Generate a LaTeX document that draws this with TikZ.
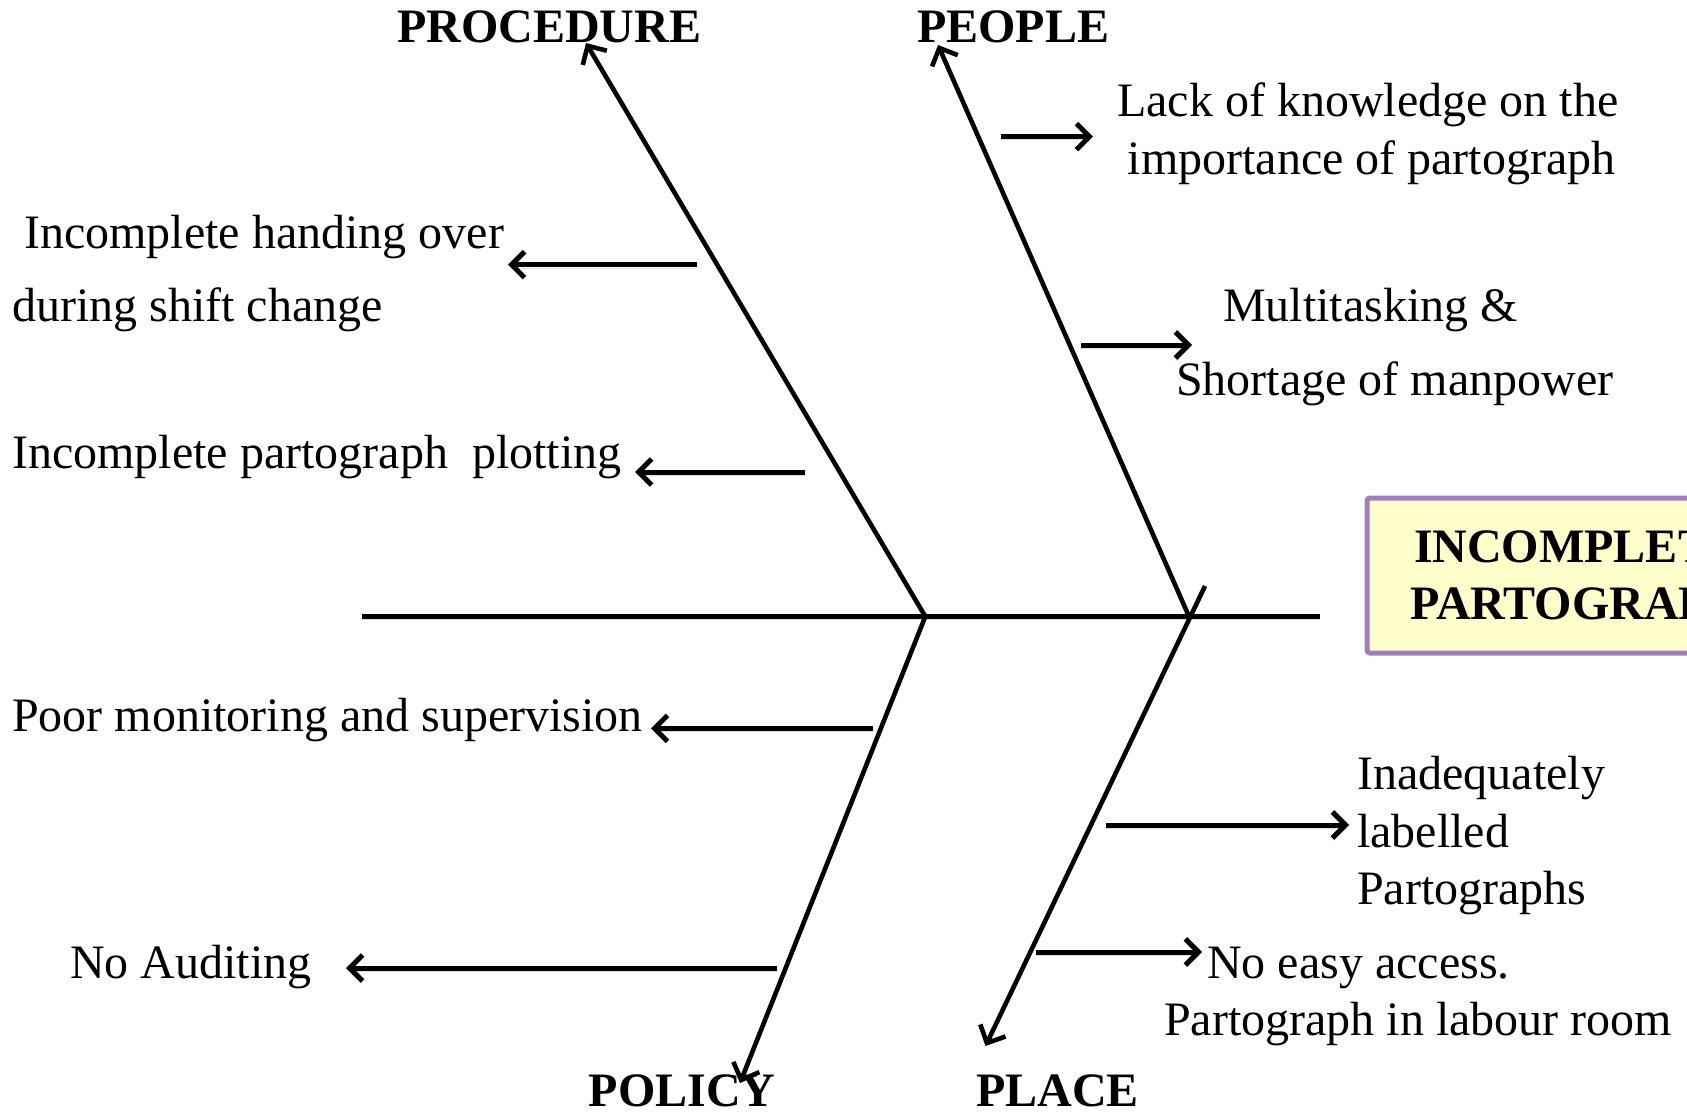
\documentclass[tikz,border=0pt]{standalone}
\usepackage{fontspec}
\setmainfont{Liberation Serif}
\usetikzlibrary{arrows.meta}
\definecolor{boxpurple}{HTML}{A47DBF}
\definecolor{boxyellow}{HTML}{FFFFCC}
\begin{document}
\begin{tikzpicture}[x=1pt,y=-1pt,
  txt/.style={anchor=base west, inner sep=0pt, font=\fontsize{48}{58}\selectfont},
  head/.style={anchor=base west, inner sep=0pt, font=\fontsize{48}{58}\selectfont\bfseries},
  soft/.style={preaction={draw=black!14, transform canvas={yshift=-3pt}}},
  spine/.style={line width=5pt, soft},
  bone/.style={line width=4.6pt, -{Straight Barb[length=14pt,width=28pt]}},
  cause/.style={line width=5pt, soft, -{Straight Barb[length=13pt,width=26pt]}},
  effectbox/.style={draw=boxpurple, fill=boxyellow, line width=5pt, rounded corners=3pt,
    minimum width=422pt, minimum height=155pt, align=center,
    font=\fontsize{48}{57}\selectfont\bfseries}]
\clip (0,0) rectangle (1687,1113);
\fill[white] (0,0) rectangle (1687,1113);

% category headings
\node[head] (procedure) at (397,43) {PROCEDURE};
\node[head] (people) at (917,43) {PEOPLE};
\node[head] (policy) at (588.5,1106) {POLICY};
\node[head] (place) at (976,1106) {PLACE};

% effect
\node[effectbox] (effect) at (1578,575.5) {INCOMPLETE\\PARTOGRAPH};

% skeleton points
\coordinate (spL) at (361.5,616.5);
\coordinate (spR) at (1320,616.5);
\coordinate (j1) at (925.3,616.5);
\coordinate (j2) at (1189,616.5);
\coordinate (procTip) at (586,43);
\coordinate (peopleTip) at (938,45);
\coordinate (placeTop) at (1205,586);
\coordinate (placeTip) at (985.5,1046);
\coordinate (policyTip) at (740,1083);

\draw[spine] (spL) -- (spR);
\draw[bone] (j1) -- (procTip);
\draw[bone] (j2) -- (peopleTip);
\draw[bone] (j1) -- (policyTip);
\draw[bone] (placeTop) -- (placeTip);

% causes
\node[txt] (c1a) at (1117,117) {Lack of knowledge on the};
\node[txt] (c1b) at (1127.5,175) {importance of partograph};
\node[txt] (c2a) at (1223,321.7) {Multitasking \&};
\node[txt] (c2b) at (1176,395) {Shortage of manpower};
\node[txt] (c3a) at (24,248.5) {Incomplete handing over};
\node[txt] (c3b) at (12,321.7) {during shift change};
\node[txt] (c4) at (12,468) {Incomplete partograph\ \ plotting};
\node[txt] (c5) at (12,731.6) {Poor monitoring and supervision};
\node[txt] (c6) at (70,978) {No Auditing};
\node[txt] (c7a) at (1357,789) {Inadequately};
\node[txt] (c7b) at (1357,847) {labelled};
\node[txt] (c7c) at (1357,904) {Partographs};
\node[txt] (c8a) at (1207,978) {No easy access.};
\node[txt] (c8b) at (1164,1035) {Partograph in labour room};

% cause arrows
\coordinate (a1s) at (1000.6,136.6); \coordinate (a1e) at (1093,136.6);
\coordinate (a2s) at (1081,345);     \coordinate (a2e) at (1192,345);
\coordinate (a3s) at (697,264.7);    \coordinate (a3e) at (508,264.7);
\coordinate (a4s) at (805,472);      \coordinate (a4e) at (635,472);
\coordinate (a5s) at (872.6,728.4);  \coordinate (a5e) at (651,728.4);
\coordinate (a6s) at (777,968);      \coordinate (a6e) at (346,968);
\coordinate (a7s) at (1106,825);     \coordinate (a7e) at (1349,825);
\coordinate (a8s) at (1036,952);     \coordinate (a8e) at (1202,952);
\foreach \i in {1,...,8} {\draw[cause] (a\i s) -- (a\i e);}
\end{tikzpicture}
\end{document}
